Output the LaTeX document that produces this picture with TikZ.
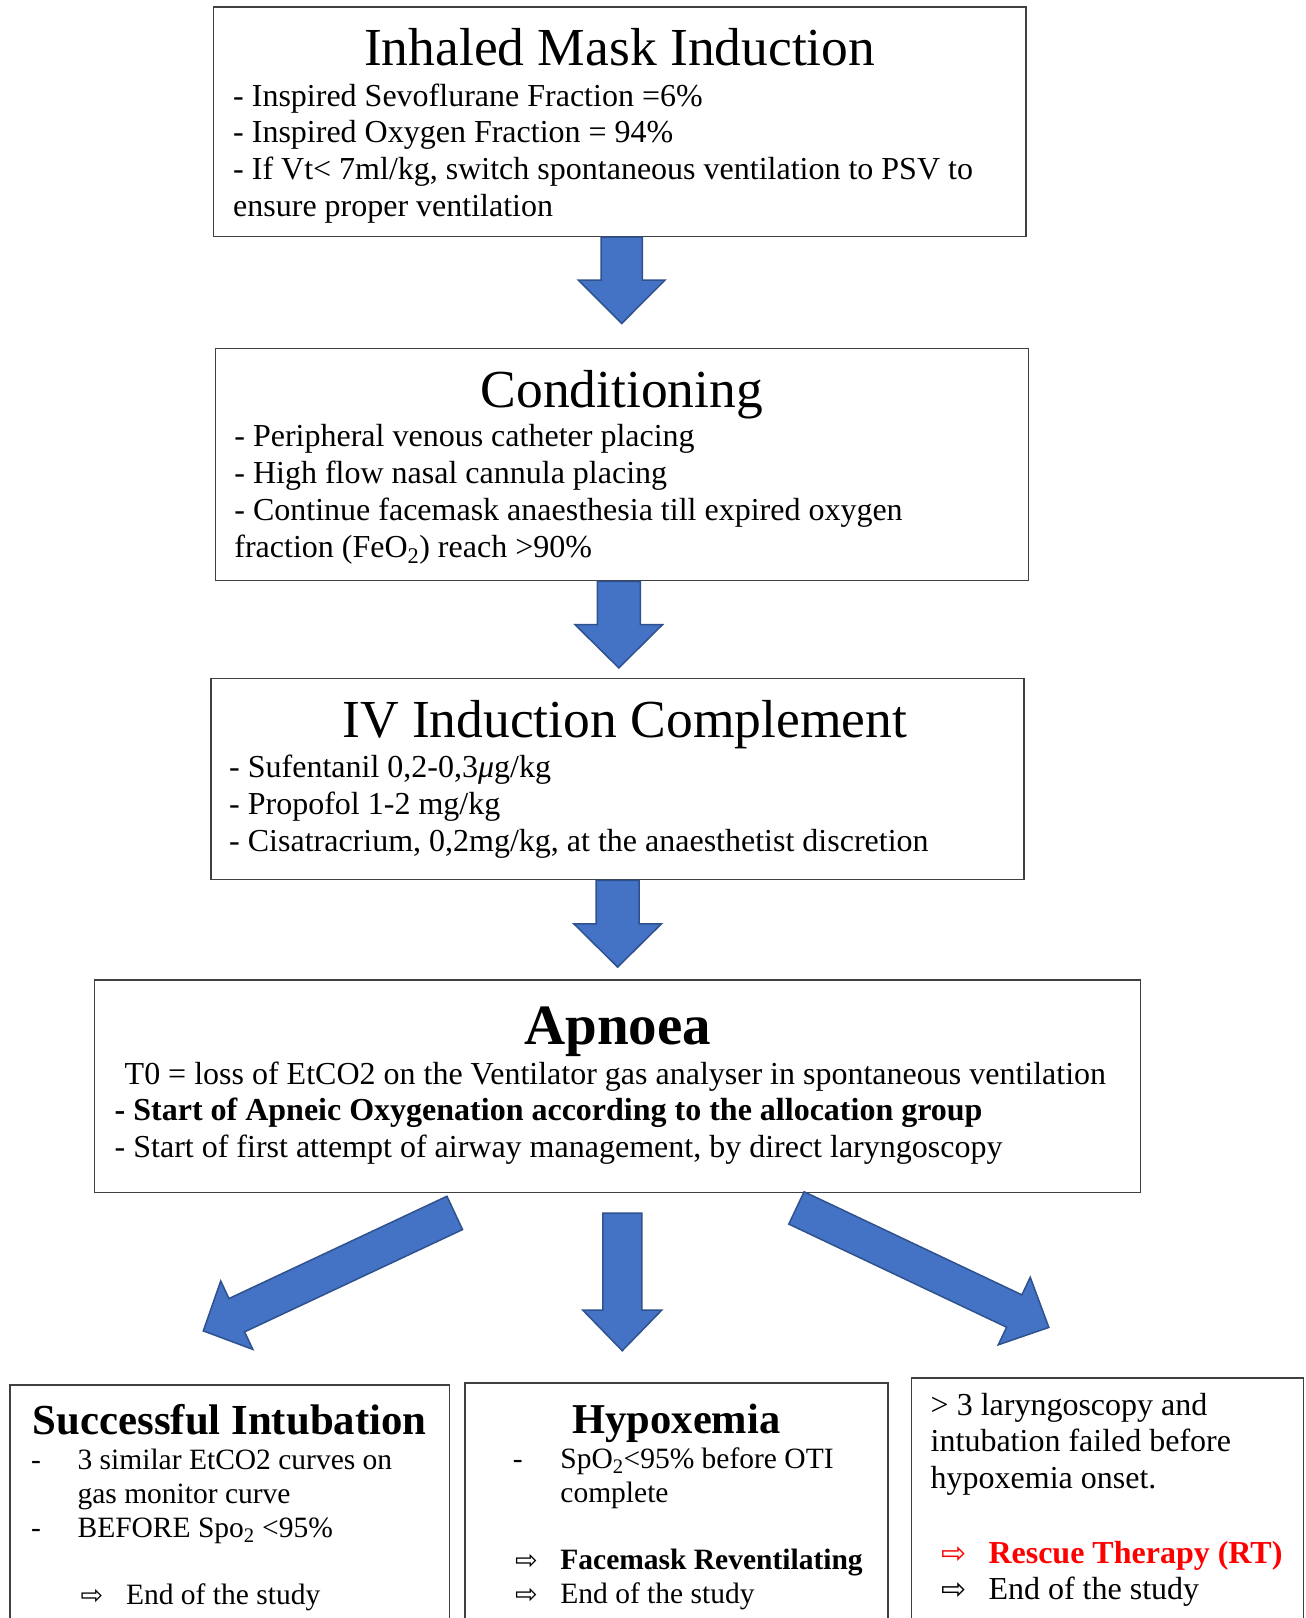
\documentclass[tikz,border=0pt]{standalone}
\usepackage{fontspec}
\setmainfont{Liberation Serif}
\newfontfamily\symbolfont{DejaVu Sans}
\usepackage{xcolor}
\usepackage{tikz}
\usetikzlibrary{calc}

\definecolor{boxline}{HTML}{404040}
\definecolor{arrowfill}{HTML}{4472C4}
\definecolor{arrowline}{HTML}{2F528F}
\definecolor{rescuered}{HTML}{FF0000}

\newcommand{\thenarrow}[1]{{\symbolfont\fontsize{#1}{#1}\selectfont ⇨}}
% start, tip, shaft half width, head half width, head length
\newcommand{\blockarrow}[5]{%
  \coordinate (ba-s) at (#1);
  \coordinate (ba-t) at (#2);
  \coordinate (ba-h) at ($(ba-t)!#5!(ba-s)$);
  \draw[flowarrow] ($(ba-s)!#3!90:(ba-t)$) -- ($(ba-h)!#3!-90:(ba-s)$)
    -- ($(ba-h)!#4!-90:(ba-s)$) -- (ba-t) -- ($(ba-h)!#4!90:(ba-s)$)
    -- ($(ba-h)!#3!90:(ba-s)$) -- ($(ba-s)!#3!-90:(ba-t)$) -- cycle;
}

\tikzset{
  flowbox/.style={draw=boxline, line width=1.5pt, inner sep=0pt, anchor=north west},
  flowarrow/.style={fill=arrowfill, draw=arrowline, line width=1.5pt, line join=miter},
  titletext/.style={anchor=base, inner sep=0pt, font=\fontsize{53.5}{60}\selectfont},
  boldtitle/.style={anchor=base, inner sep=0pt, font=\fontsize{#1}{#1}\selectfont\bfseries},
  bodytext/.style={anchor=base west, inner sep=0pt, align=left, text width=#1,
    font=\fontsize{32}{36.6}\selectfont,
    execute at begin node={\spaceskip=.25em plus .1em\relax}},
  smalltext/.style={bodytext=#1, font=\fontsize{29.5}{34}\selectfont}
}

\begin{document}
\begin{tikzpicture}[x=1pt, y=-1pt]
  \useasboundingbox (0,0) rectangle (1306,1618);

  \node[flowbox, minimum width=812.9pt, minimum height=229.3pt] (induction) at (212.5,6.2) {};
  \node[titletext] (induction-title) at ($(induction.north)+(0,59)$) {Inhaled Mask Induction};
  \node[bodytext=790pt] (induction-text) at ($(induction.north west)+(20.5,100)$)
    {- Inspired Sevoflurane Fraction =6\%\\
     - Inspired Oxygen Fraction = 94\%\\
     - If Vt< 7ml/kg, switch spontaneous ventilation to PSV to\\
     ensure proper ventilation};

  \node[flowbox, minimum width=812.9pt, minimum height=232.2pt] (conditioning) at (214.6,347.6) {};
  \node[titletext] (conditioning-title) at ($(conditioning.north)+(0,60)$) {Conditioning};
  \node[bodytext=790pt, font=\fontsize{32}{36.8}\selectfont] (conditioning-text) at ($(conditioning.north west)+(19.6,99)$)
    {- Peripheral venous catheter placing\\
     - High flow nasal cannula placing\\
     - Continue facemask anaesthesia till expired oxygen\\
     fraction (FeO\textsubscript{2}) reach >90\%};

  \node[flowbox, minimum width=813pt, minimum height=201.1pt] (ivinduction) at (210.4,677.8) {};
  \node[titletext] (ivinduction-title) at ($(ivinduction.north)+(7,60)$) {IV Induction Complement};
  \node[bodytext=790pt, font=\fontsize{32}{37}\selectfont] (ivinduction-text) at ($(ivinduction.north west)+(18.6,100)$)
    {- Sufentanil 0,2-0,3\textit{μ}g/kg\\
     - Propofol 1-2 mg/kg\\
     - Cisatracrium, 0,2mg/kg, at the anaesthetist discretion};

  \node[flowbox, minimum width=1046pt, minimum height=212.5pt] (apnoea) at (93.9,979) {};
  \node[boldtitle=57] (apnoea-title) at ($(apnoea.north)+(0,65)$) {Apnoea};
  \node[bodytext=1040pt] (apnoea-text) at ($(apnoea.north west)+(20.6,105)$)
    {\hspace*{10pt}T0 = loss of EtCO2 on the Ventilator gas analyser in spontaneous ventilation\\
     \textbf{- Start of Apneic Oxygenation according to the allocation group}\\
     - Start of first attempt of airway management, by direct laryngoscopy};

  \node[flowbox, minimum width=439.5pt, minimum height=255.6pt] (success) at (9.3,1384.4) {};
  \node[boldtitle=42.8] (success-title) at ($(success.north)+(0,49.6)$) {Successful Intubation};
  \node[smalltext=410pt] (success-text) at ($(success.north west)+(21.7,84.6)$)
    {\makebox[46.4pt][l]{-}3 similar EtCO2 curves on\\
     \hspace*{46.4pt}gas monitor curve\\
     \makebox[46.4pt][l]{-}BEFORE Spo\textsubscript{2} <95\%\\[33pt]
     \hspace*{49.5pt}\makebox[45.4pt][l]{\thenarrow{27}}End of the study};

  \node[flowbox, minimum width=423pt, minimum height=257.6pt] (hypoxemia) at (464.2,1382.4) {};
  \node[boldtitle=42.5] (hypoxemia-title) at ($(hypoxemia.north)+(0,50.6)$) {Hypoxemia};
  \node[smalltext=370pt] (hypoxemia-text) at ($(hypoxemia.north west)+(48.5,85.6)$)
    {\makebox[47.5pt][l]{-}SpO\textsubscript{2}<95\% before OTI\\
     \hspace*{47.5pt}complete\\[33pt]
     \hspace*{2.1pt}\makebox[45.4pt][l]{\thenarrow{27}}\textbf{Facemask Reventilating}\\
     \hspace*{2.1pt}\makebox[45.4pt][l]{\thenarrow{27}}End of the study};

  \node[flowbox, minimum width=392pt, minimum height=262.8pt] (failed) at (910.9,1377.2) {};
  \node[bodytext=370pt, font=\fontsize{32}{36.8}\selectfont] (failed-text) at ($(failed.north west)+(19.6,37.8)$)
    {> 3 laryngoscopy and\\
     intubation failed before\\
     hypoxemia onset.\\[37.6pt]
     \hspace*{10.3pt}{\color{rescuered}\makebox[47.5pt][l]{\thenarrow{30}}\textbf{Rescue Therapy (RT)}}\\
     \hspace*{10.3pt}\makebox[47.5pt][l]{\thenarrow{30}}End of the study};

  \blockarrow{$(induction.south)+(2,0)$}{$(induction.south)+(2,86.5)$}{20.7pt}{43.3pt}{43.4pt}
  \blockarrow{$(conditioning.south)+(-3,0)$}{$(conditioning.south)+(-3,86.6)$}{21.5pt}{43.8pt}{43.3pt}
  \blockarrow{ivinduction.south}{$(ivinduction.south)+(0,86.7)$}{21.5pt}{43.8pt}{43.3pt}

  \blockarrow{$(apnoea.south)+(-162.9,19.9)$}{$(success.north)+(-26.5,-53.5)$}{18.4pt}{37.8pt}{37pt}
  \blockarrow{$(apnoea.south)+(4.6,20.2)$}{$(hypoxemia.north)+(-54.2,-31.7)$}{19.5pt}{39.6pt}{40.7pt}
  \blockarrow{$(apnoea.south)+(178.8,14.9)$}{$(failed.north)+(-58.8,-49.8)$}{17.9pt}{37.4pt}{38.3pt}
\end{tikzpicture}
\end{document}
